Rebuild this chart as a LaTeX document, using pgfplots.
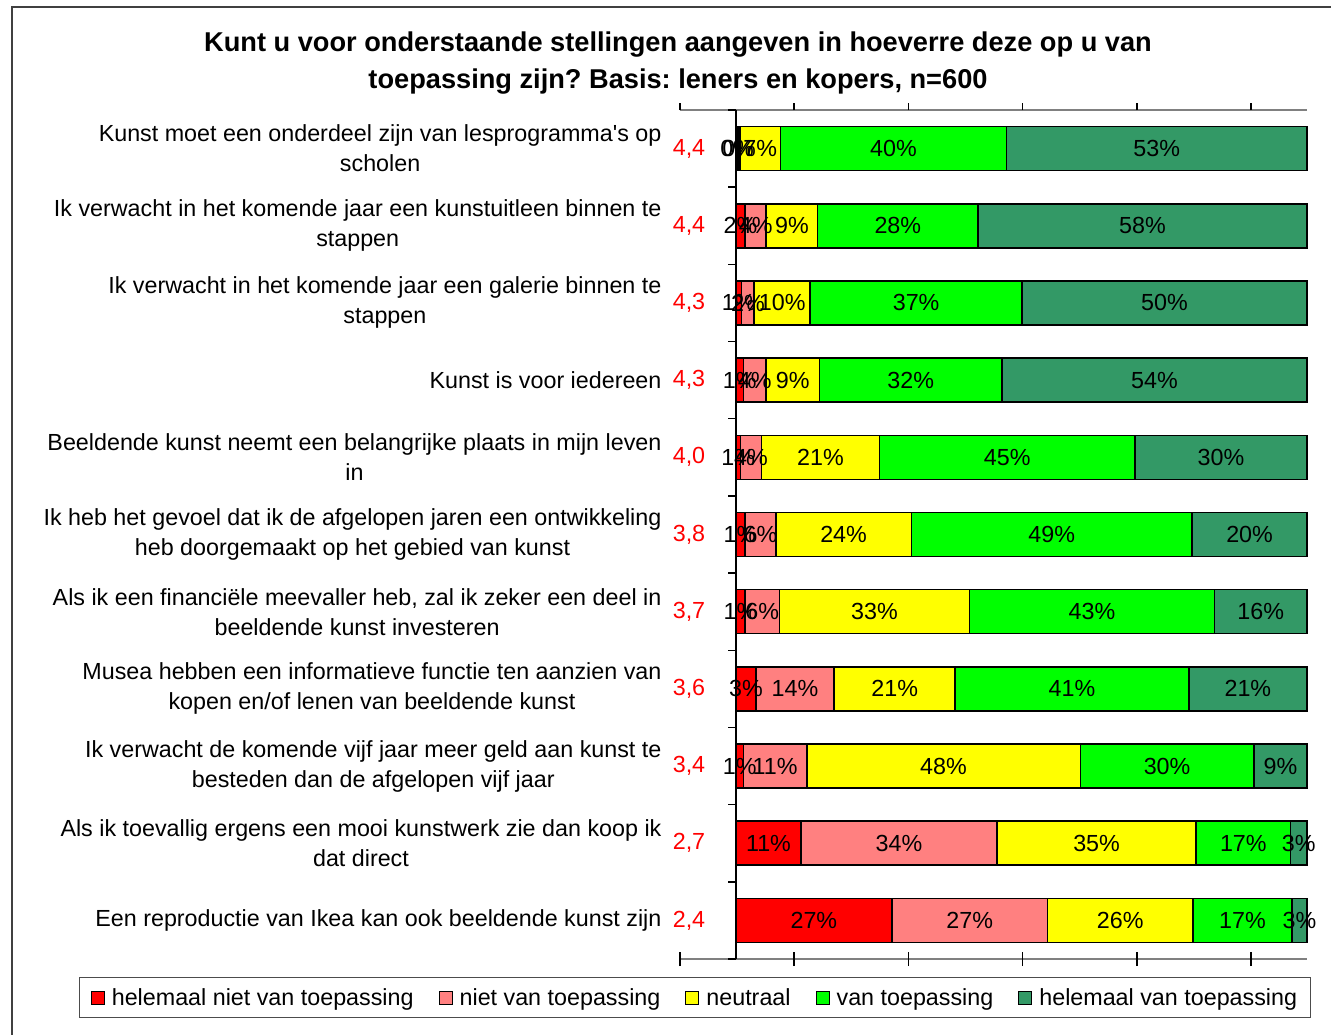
\documentclass[border=0pt]{standalone}
\usepackage{fontspec}
\setmainfont{Liberation Sans}
\usepackage{pgfplots}
\usepackage{pgfplotstable}
\pgfplotsset{compat=1.18}
\definecolor{cRed}{HTML}{FF0000}
\definecolor{cPink}{HTML}{FF8080}
\definecolor{cYel}{HTML}{FFFF00}
\definecolor{cGrn}{HTML}{00FF00}
\definecolor{cDk}{HTML}{339966}
\newcommand{\lab}{\fontsize{23.3}{30}\selectfont}

\pgfplotstableread{
row r p y g d lr lp ly lg ld
0 0.4 0.3 7.1 39.6 52.6 0 0 7 40 53
1 1.6 3.7 9.0 28.1 57.6 2 4 9 28 58
2 1.0 2.2 9.8 37.1 49.9 1 2 10 37 50
3 1.3 4.0 9.3 32.0 53.4 1 4 9 32 54
4 0.8 3.7 20.6 44.8 30.1 1 4 21 45 30
5 1.6 5.4 23.7 49.2 20.1 1 6 24 49 20
6 1.6 6.0 33.3 42.9 16.2 1 6 33 43 16
7 3.5 13.7 21.2 40.9 20.7 3 14 21 41 21
8 1.3 11.1 47.9 30.4 9.3 1 11 48 30 9
9 11.4 34.3 34.9 16.5 2.9 11 34 35 17 3
10 27.3 27.3 25.4 17.4 2.6 27 27 26 17 3
}\data

\begin{document}
\frenchspacing
\begin{tikzpicture}
\useasboundingbox (-680pt,-75pt) rectangle (651pt,959pt);
\draw[line width=2.5pt, color=black!75] (-668pt,-80pt) -- (-668pt,952pt) -- (660pt,952pt);
\node[anchor=north, inner sep=0pt, align=center, font=\bfseries\fontsize{27.2}{37}\selectfont] at (-2pt,927.5pt)
  {Kunt u voor onderstaande stellingen aangeven in hoeverre deze op u van\\toepassing zijn? Basis: leners en kopers, n=600};
\begin{axis}[
  at={(0pt,0pt)}, anchor=south west,
  scale only axis, width=627pt, height=849pt,
  xbar stacked, bar width=44pt,
  xmin=-9.8, xmax=100, ymin=-0.5, ymax=10.5, y dir=reverse,
  clip=false,
  xtick=\empty,
  ytick={0,...,10},
  yticklabels={
    {Kunst moet een onderdeel zijn van lesprogramma\textquotesingle s op\\scholen},
    {Ik verwacht in het komende jaar een kunstuitleen binnen te\\stappen},
    {Ik verwacht in het komende jaar een galerie binnen te\\stappen},
    {Kunst is voor iedereen},
    {Beeldende kunst neemt een belangrijke plaats in mijn leven\\in},
    {Ik heb het gevoel dat ik de afgelopen jaren een ontwikkeling\\heb doorgemaakt op het gebied van kunst},
    {Als ik een financiële meevaller heb, zal ik zeker een deel in\\beeldende kunst investeren},
    {Musea hebben een informatieve functie ten aanzien van\\kopen en/of lenen van beeldende kunst},
    {Ik verwacht de komende vijf jaar meer geld aan kunst te\\besteden dan de afgelopen vijf jaar},
    {Als ik toevallig ergens een mooi kunstwerk zie dan koop ik\\dat direct},
    {Een reproductie van Ikea kan ook beeldende kunst zijn}},
  major tick length=0pt,
  yticklabel style={align=center, font=\lab, xshift=-15pt},
  extra y ticks={0,1,2,3,4,5,6,7,8,9,10},
  extra y tick labels={{4,4},{4,4},{4,3},{4,3},{4,0},{3,8},{3,7},{3,6},{3,4},{2,7},{2,4}},
  extra y tick style={yticklabel style={text=red, anchor=center, xshift=24pt}},
  separate axis lines,
  x axis line style={draw=gray, line width=1.5pt},
  y axis line style={draw=none},
  point meta=explicit symbolic,
  nodes near coords={\pgfplotspointmeta\%},
  every node near coord/.append style={font=\lab, text=black, anchor=center},
  legend columns=5,
  legend style={at={(axis description cs:0.0239,-0.0212)}, anchor=north,
    draw=black!70, line width=1pt, font=\lab, inner xsep=11pt, inner ysep=9pt,
    /tikz/every odd column/.append style={column sep=5pt},
    /tikz/every even column/.append style={column sep=23pt}},
  legend image code/.code={\draw[#1, draw=black, line width=1pt] (0pt,-6.5pt) rectangle (13pt,6.5pt);},
]
\addplot[fill=cRed, draw=black, line width=1.5pt] table[x=r, y=row, meta=lr] {\data};
\addplot[fill=cPink, draw=black, line width=1.5pt] table[x=p, y=row, meta=lp] {\data};
\addplot[fill=cYel, draw=black, line width=1.5pt] table[x=y, y=row, meta=ly] {\data};
\addplot[fill=cGrn, draw=black, line width=1.5pt] table[x=g, y=row, meta=lg] {\data};
\addplot[fill=cDk, draw=black, line width=1.5pt] table[x=d, y=row, meta=ld] {\data};
\legend{helemaal niet van toepassing, niet van toepassing, neutraal, van toepassing, helemaal van toepassing}
\draw[black, line width=1.5pt] (axis cs:0,-0.5) -- (axis cs:0,10.5);
\pgfplotsinvokeforeach{-0.5,0.5,1.5,2.5,3.5,4.5,5.5,6.5,7.5,8.5,9.5,10.5}{
  \draw[black, line width=1.5pt] (axis cs:0,#1) -- ++(-8pt,0pt);
}
\pgfplotsinvokeforeach{-9.8,10.2,30.2,50.2,70.2,90.2}{
  \draw[black, line width=1.5pt] (axis cs:#1,-0.5) -- ++(0pt,7pt);
  \draw[black, line width=1.5pt] ([yshift=-7pt]axis cs:#1,10.5) -- ++(0pt,14pt);
}
\end{axis}
\end{tikzpicture}
\end{document}
